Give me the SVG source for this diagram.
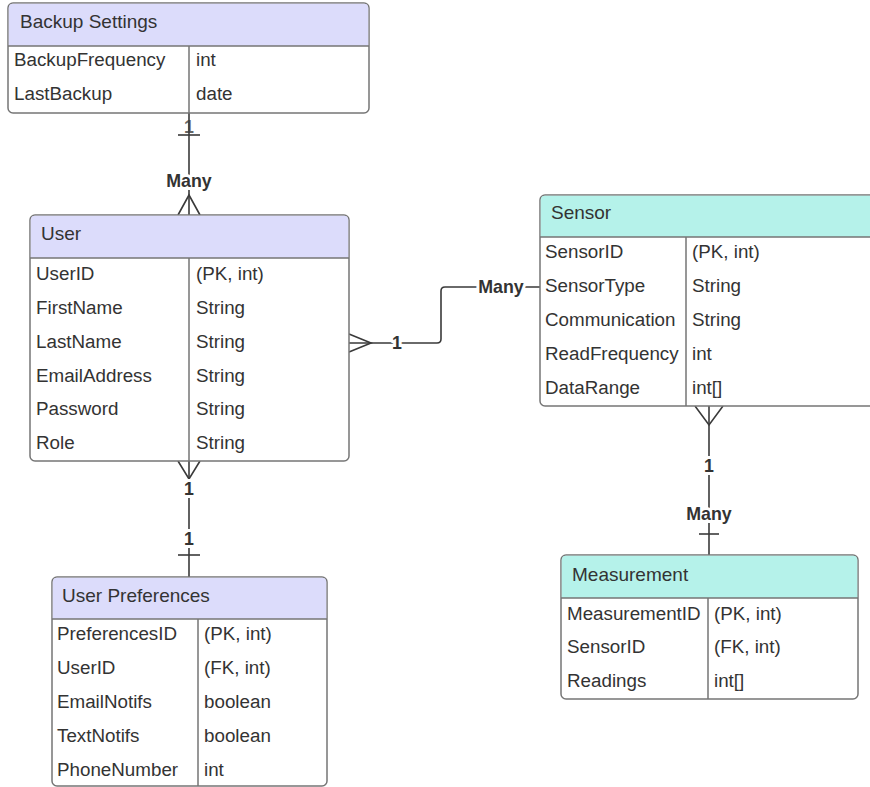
<svg xmlns="http://www.w3.org/2000/svg" width="870" height="787" viewBox="0 0 870 787">
<style>
  .box{fill:#ffffff;stroke:#767676;stroke-width:1.5}
  .hdrL{fill:#dcdcfb}
  .hdrT{fill:#b5f2ea}
  .sep{stroke:#767676;stroke-width:1.5;fill:none}
  .t{font-family:"Liberation Sans",Arial,sans-serif;font-size:18.8px;fill:#333333}
  .h{font-family:"Liberation Sans",Arial,sans-serif;font-size:19px;fill:#333333}
  .conn{stroke:#3a3a3a;stroke-width:1.6;fill:none}
  .lbl{font-family:"Liberation Sans",Arial,sans-serif;font-size:17.8px;font-weight:bold;fill:#333333;text-anchor:middle;paint-order:stroke;stroke:#ffffff;stroke-width:6px;stroke-linejoin:round}
  .lbl2{font-family:"Liberation Sans",Arial,sans-serif;font-size:17.8px;font-weight:bold;fill:#666666;text-anchor:middle}
</style>
<rect width="870" height="787" fill="#ffffff"/>

<g id="connectors">
  <!-- Backup Settings to User -->
  <text class="lbl2" x="189" y="133">1</text>
  <path class="conn" d="M189 113 V215"/>
  <path class="conn" d="M178 135 H200"/>
  <path class="conn" d="M178 215 L189 195 L200 215"/>
  <text class="lbl" x="189" y="187">Many</text>

  <!-- User to Sensor -->
  <path class="conn" d="M349 343 H437 Q441 343 441 339 V291 Q441 287 445 287 H540"/>
  <path class="conn" d="M349 334 L371 343 L349 352"/>
  <text class="lbl" x="397" y="349">1</text>
  <text class="lbl" x="501" y="293">Many</text>

  <!-- User to User Preferences -->
  <path class="conn" d="M189 461 V577"/>
  <path class="conn" d="M178 461 L189 479 L200 461"/>
  <path class="conn" d="M178 555 H200"/>
  <text class="lbl" x="189" y="495">1</text>
  <text class="lbl" x="189" y="545">1</text>

  <!-- Sensor to Measurement -->
  <path class="conn" d="M709 406 V555"/>
  <path class="conn" d="M695 406 L709 425 L723 406"/>
  <path class="conn" d="M699 534 H719"/>
  <text class="lbl" x="709" y="472">1</text>
  <text class="lbl" x="709" y="520">Many</text>
</g>

<g id="backup-settings">
  <rect class="box" x="8" y="3" width="361" height="110" rx="5"/>
  <path class="hdrL" d="M13 3.75 H364 Q368.25 3.75 368.25 8 V46 H8.75 V8 Q8.75 3.75 13 3.75 Z"/>
  <path class="sep" d="M8 46 H369 M189 46 V113"/>
  <text class="h" x="20" y="28">Backup Settings</text>
  <text class="t" x="14" y="66">BackupFrequency</text><text class="t" x="196" y="66">int</text>
  <text class="t" x="14" y="100">LastBackup</text><text class="t" x="196" y="100">date</text>
</g>

<g id="user">
  <rect class="box" x="30" y="215" width="319" height="246" rx="5"/>
  <path class="hdrL" d="M35 215.75 H344 Q348.25 215.75 348.25 220 V258 H30.75 V220 Q30.75 215.75 35 215.75 Z"/>
  <path class="sep" d="M30 258 H349 M189 258 V461"/>
  <text class="h" x="41" y="240">User</text>
  <text class="t" x="36" y="280">UserID</text><text class="t" x="196" y="280">(PK, int)</text>
  <text class="t" x="36" y="314">FirstName</text><text class="t" x="196" y="314">String</text>
  <text class="t" x="36" y="347.5">LastName</text><text class="t" x="196" y="347.5">String</text>
  <text class="t" x="36" y="381.5">EmailAddress</text><text class="t" x="196" y="381.5">String</text>
  <text class="t" x="36" y="415">Password</text><text class="t" x="196" y="415">String</text>
  <text class="t" x="36" y="448.5">Role</text><text class="t" x="196" y="448.5">String</text>
</g>

<g id="sensor">
  <rect class="box" x="540" y="195" width="345" height="211" rx="5"/>
  <path class="hdrT" d="M545 195.75 H884 V237 H540.75 V200 Q540.75 195.75 545 195.75 Z"/>
  <path class="sep" d="M540 237 H885 M686 237 V406"/>
  <text class="h" x="551" y="219">Sensor</text>
  <text class="t" x="545" y="258">SensorID</text><text class="t" x="692" y="258">(PK, int)</text>
  <text class="t" x="545" y="292">SensorType</text><text class="t" x="692" y="292">String</text>
  <text class="t" x="545" y="326">Communication</text><text class="t" x="692" y="326">String</text>
  <text class="t" x="545" y="360">ReadFrequency</text><text class="t" x="692" y="360">int</text>
  <text class="t" x="545" y="394">DataRange</text><text class="t" x="692" y="394">int[]</text>
</g>

<g id="measurement">
  <rect class="box" x="561" y="555" width="297" height="144" rx="5"/>
  <path class="hdrT" d="M566 555.75 H853 Q857.25 555.75 857.25 560 V598 H561.75 V560 Q561.75 555.75 566 555.75 Z"/>
  <path class="sep" d="M561 598 H858 M708 598 V699"/>
  <text class="h" x="572" y="581">Measurement</text>
  <text class="t" x="567" y="620">MeasurementID</text><text class="t" x="714" y="620">(PK, int)</text>
  <text class="t" x="567" y="653">SensorID</text><text class="t" x="714" y="653">(FK, int)</text>
  <text class="t" x="567" y="687">Readings</text><text class="t" x="714" y="687">int[]</text>
</g>

<g id="user-preferences">
  <rect class="box" x="52" y="577" width="275" height="209" rx="5"/>
  <path class="hdrL" d="M57 577.75 H322 Q326.25 577.75 326.25 582 V619 H52.75 V582 Q52.75 577.75 57 577.75 Z"/>
  <path class="sep" d="M52 619 H327 M198 619 V786"/>
  <text class="h" x="62" y="602">User Preferences</text>
  <text class="t" x="57" y="640">PreferencesID</text><text class="t" x="204" y="640">(PK, int)</text>
  <text class="t" x="57" y="674">UserID</text><text class="t" x="204" y="674">(FK, int)</text>
  <text class="t" x="57" y="708">EmailNotifs</text><text class="t" x="204" y="708">boolean</text>
  <text class="t" x="57" y="742">TextNotifs</text><text class="t" x="204" y="742">boolean</text>
  <text class="t" x="57" y="776">PhoneNumber</text><text class="t" x="204" y="776">int</text>
</g>
</svg>
